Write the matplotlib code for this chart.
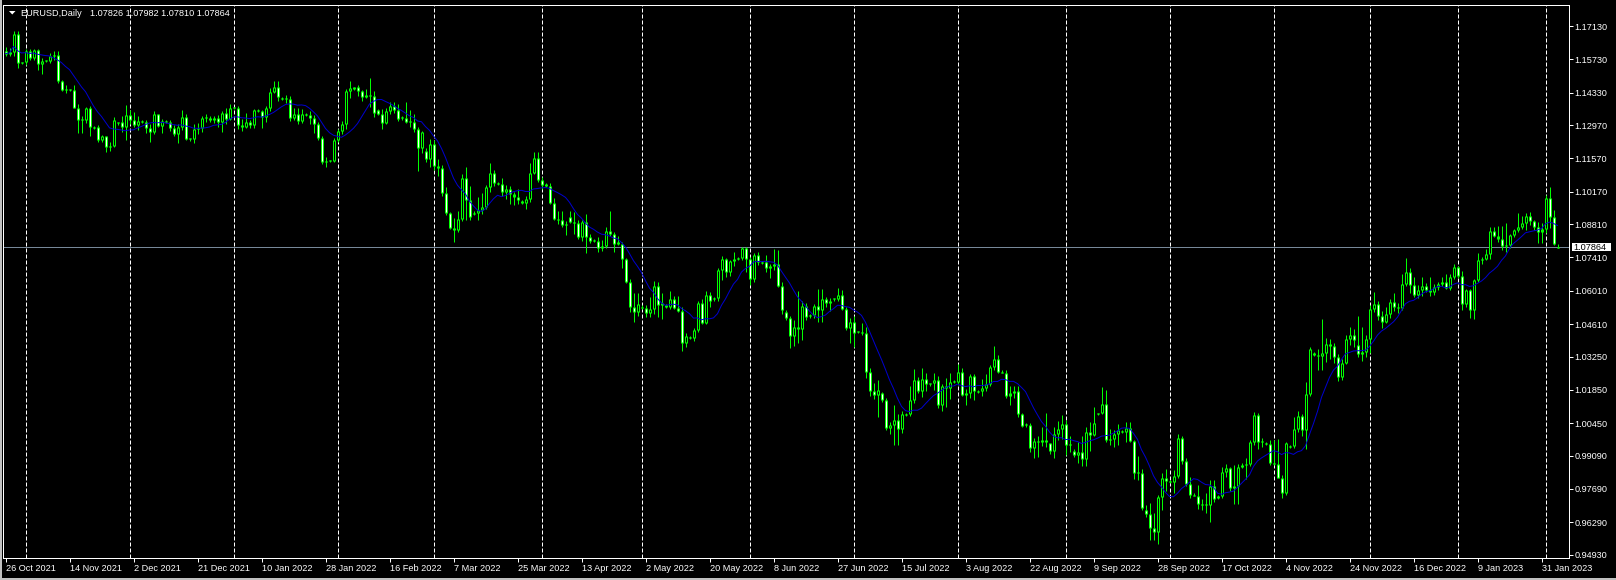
import numpy as np
import pandas as pd
import matplotlib
matplotlib.use("Agg")
import matplotlib.pyplot as plt
from matplotlib.patches import Polygon, Rectangle

"""
EURUSD daily candles, MetaTrader style (green on black).
"""

# trading calendar of the chart: weekdays, plus the broker's sunday bars until mid Nov 2022
first_day = "2021-10-26"
last_day = "2023-02-06"
last_sunday_bar = "2022-11-13"
skipped_days = ["2021-12-26"]

symbol_title = "EURUSD,Daily"

opens = [
    1.1609, 1.1597, 1.1603, 1.1681, 1.1557, 1.1560, 1.1607, 1.1579, 1.1611, 1.1555,
    1.1565, 1.1567, 1.1587, 1.1593, 1.1481, 1.1446, 1.1444, 1.1446, 1.1368, 1.1320,
    1.1318, 1.1370, 1.1285, 1.1290, 1.1235, 1.1250, 1.1205, 1.1209, 1.1305, 1.1308,
    1.1290, 1.1338, 1.1320, 1.1298, 1.1310, 1.1312, 1.1286, 1.1270, 1.1342, 1.1292,
    1.1310, 1.1312, 1.1285, 1.1258, 1.1289, 1.1330, 1.1238, 1.1240, 1.1280, 1.1285,
    1.1327, 1.1325, 1.1318, 1.1328, 1.1310, 1.1349, 1.1323, 1.1368, 1.1370, 1.1298,
    1.1287, 1.1311, 1.1296, 1.1358, 1.1356, 1.1333, 1.1369, 1.1437, 1.1455, 1.1410,
    1.1408, 1.1406, 1.1326, 1.1344, 1.1313, 1.1342, 1.1341, 1.1325, 1.1302, 1.1243,
    1.1144, 1.1146, 1.1148, 1.1235, 1.1272, 1.1302, 1.1440, 1.1450, 1.1455, 1.1440,
    1.1416, 1.1422, 1.1420, 1.1360, 1.1345, 1.1306, 1.1357, 1.1375, 1.1362, 1.1330,
    1.1325, 1.1310, 1.1310, 1.1280, 1.1199, 1.1190, 1.1155, 1.1218, 1.1125, 1.1115,
    1.1010, 1.0926, 1.0865, 1.0855, 1.0902, 1.1076, 1.0981, 1.0925, 1.0929, 1.0942,
    1.0954, 1.1035, 1.1094, 1.1050, 1.1049, 1.1016, 1.1030, 1.1006, 1.0996, 1.0980,
    1.0970, 1.0985, 1.1095, 1.1158, 1.1067, 1.1048, 1.1042, 1.0970, 1.0902, 1.0900,
    1.0877, 1.0910, 1.0890, 1.0885, 1.0829, 1.0890, 1.0826, 1.0812, 1.0810, 1.0780,
    1.0790, 1.0852, 1.0838, 1.0808, 1.0799, 1.0733, 1.0639, 1.0534, 1.0510, 1.0535,
    1.0530, 1.0509, 1.0525, 1.0620, 1.0540, 1.0540, 1.0535, 1.0565, 1.0530, 1.0515,
    1.0380, 1.0405, 1.0402, 1.0435, 1.0550, 1.0465, 1.0585, 1.0565, 1.0570, 1.0690,
    1.0735, 1.0680, 1.0725, 1.0735, 1.0740, 1.0780, 1.0735, 1.0650, 1.0750, 1.0718,
    1.0720, 1.0695, 1.0705, 1.0715, 1.0620, 1.0513, 1.0485, 1.0410, 1.0447, 1.0440,
    1.0537, 1.0495, 1.0498, 1.0537, 1.0520, 1.0565, 1.0550, 1.0567, 1.0565, 1.0583,
    1.0525, 1.0443, 1.0471, 1.0428, 1.0430, 1.0425, 1.0261, 1.0182, 1.0163, 1.0170,
    1.0142, 1.0023, 1.0037, 1.0060, 1.0019, 1.0080, 1.0082, 1.0142, 1.0225, 1.0180,
    1.0230, 1.0208, 1.0212, 1.0225, 1.0120, 1.0200, 1.0195, 1.0218, 1.0220, 1.0260,
    1.0165, 1.0172, 1.0245, 1.0178, 1.0180, 1.0195, 1.0210, 1.0280, 1.0315, 1.0262,
    1.0258, 1.0160, 1.0170, 1.0180, 1.0085, 1.0038, 1.0036, 0.9942, 0.9970, 0.9965,
    0.9975, 0.9960, 0.9930, 1.0000, 1.0020, 1.0040, 0.9955, 0.9930, 0.9912, 0.9925,
    0.9895, 1.0010, 0.9995, 1.0085, 1.0088, 1.0125, 0.9975, 0.9980, 1.0000, 1.0012,
    1.0010, 1.0025, 0.9970, 0.9835, 0.9837, 0.9680, 0.9665, 0.9605, 0.9590, 0.9737,
    0.9815, 0.9800, 0.9797, 0.9825, 0.9985, 0.9885, 0.9790, 0.9745, 0.9740, 0.9705,
    0.9700, 0.9703, 0.9780, 0.9730, 0.9738, 0.9840, 0.9855, 0.9775, 0.9780, 0.9860,
    0.9870, 0.9875, 0.9965, 1.0080, 0.9965, 0.9960, 0.9958, 0.9880, 0.9875, 0.9817,
    0.9750, 0.9945, 0.9948, 1.0020, 1.0075, 1.0016, 1.0166, 1.0340, 1.0333, 1.0326,
    1.0341, 1.0378, 1.0368, 1.0325, 1.0240, 1.0300, 1.0397, 1.0415, 1.0375, 1.0335,
    1.0345, 1.0400, 1.0525, 1.0545, 1.0495, 1.0470, 1.0505, 1.0555, 1.0535, 1.0530,
    1.0630, 1.0680, 1.0625, 1.0585, 1.0605, 1.0622, 1.0605, 1.0595, 1.0615, 1.0630,
    1.0640, 1.0612, 1.0660, 1.0700, 1.0665, 1.0545, 1.0605, 1.0522, 1.0645, 1.0732,
    1.0735, 1.0755, 1.0853, 1.0830, 1.0820, 1.0790, 1.0795, 1.0835, 1.0855, 1.0870,
    1.0885, 1.0915, 1.0893, 1.0870, 1.0850, 1.0860, 1.0989, 1.0910, 1.07826,
]

highs = [
    1.1625, 1.1620, 1.1692, 1.1692, 1.1563, 1.1616, 1.1617, 1.1616, 1.1617, 1.1580,
    1.1570, 1.1600, 1.1607, 1.1609, 1.1487, 1.1464, 1.1448, 1.1464, 1.1385, 1.1337,
    1.1374, 1.1375, 1.1292, 1.1297, 1.1254, 1.1253, 1.1224, 1.1330, 1.1312, 1.1335,
    1.1383, 1.1360, 1.1353, 1.1334, 1.1318, 1.1320, 1.1300, 1.1355, 1.1345, 1.1322,
    1.1318, 1.1320, 1.1297, 1.1300, 1.1360, 1.1342, 1.1244, 1.1300, 1.1306, 1.1335,
    1.1345, 1.1335, 1.1335, 1.1340, 1.1357, 1.1368, 1.1386, 1.1374, 1.1376, 1.1322,
    1.1347, 1.1320, 1.1365, 1.1364, 1.1362, 1.1375, 1.1454, 1.1482, 1.1482, 1.1416,
    1.1424, 1.1419, 1.1369, 1.1369, 1.1364, 1.1348, 1.1355, 1.1338, 1.1310, 1.1250,
    1.1162, 1.1152, 1.1242, 1.1281, 1.1313, 1.1450, 1.1483, 1.1457, 1.1465, 1.1446,
    1.1448, 1.1495, 1.1440, 1.1366, 1.1366, 1.1368, 1.1395, 1.1393, 1.1385, 1.1336,
    1.1395, 1.1360, 1.1343, 1.1290, 1.1274, 1.1200, 1.1240, 1.1235, 1.1155, 1.1130,
    1.1035, 1.0932, 1.0905, 1.0935, 1.1093, 1.1121, 1.1040, 1.0935, 1.0996, 1.1010,
    1.1045, 1.1137, 1.1110, 1.1056, 1.1075, 1.1045, 1.1040, 1.1015, 1.1030, 1.0984,
    1.1000, 1.1137, 1.1185, 1.1183, 1.1078, 1.1054, 1.1053, 1.0990, 1.0935, 1.0936,
    1.0893, 1.0935, 1.0930, 1.0900, 1.0900, 1.0924, 1.0840, 1.0818, 1.0825, 1.0815,
    1.0870, 1.0937, 1.0848, 1.0830, 1.0805, 1.0738, 1.0652, 1.0593, 1.0593, 1.0540,
    1.0543, 1.0575, 1.0641, 1.0640, 1.0590, 1.0546, 1.0600, 1.0580, 1.0580, 1.0535,
    1.0425, 1.0410, 1.0445, 1.0560, 1.0565, 1.0600, 1.0595, 1.0577, 1.0698, 1.0749,
    1.0737, 1.0730, 1.0765, 1.0745, 1.0787, 1.0785, 1.0745, 1.0760, 1.0765, 1.0725,
    1.0750, 1.0715, 1.0775, 1.0774, 1.0640, 1.0520, 1.0495, 1.0480, 1.0600, 1.0560,
    1.0550, 1.0502, 1.0545, 1.0607, 1.0607, 1.0575, 1.0570, 1.0572, 1.0614, 1.0605,
    1.0535, 1.0487, 1.0495, 1.0434, 1.0465, 1.0450, 1.0275, 1.0215, 1.0225, 1.0175,
    1.0150, 1.0052, 1.0122, 1.0085, 1.0096, 1.0088, 1.0201, 1.0272, 1.0240, 1.0278,
    1.0255, 1.0215, 1.0255, 1.0245, 1.0210, 1.0235, 1.0254, 1.0225, 1.0293, 1.0275,
    1.0190, 1.0253, 1.0250, 1.0184, 1.0230, 1.0250, 1.0290, 1.0368, 1.0330, 1.0268,
    1.0270, 1.0200, 1.0200, 1.0200, 1.0090, 1.0044, 1.0045, 0.9985, 0.9990, 1.0030,
    1.0090, 0.9964, 1.0028, 1.0055, 1.0080, 1.0060, 0.9990, 0.9935, 0.9965, 0.9990,
    1.0030, 1.0050, 1.0115, 1.0090, 1.0198, 1.0185, 1.0020, 1.0017, 1.0040, 1.0018,
    1.0050, 1.0050, 0.9976, 0.9906, 0.9852, 0.9700, 0.9710, 0.9670, 0.9745, 0.9837,
    0.9853, 0.9806, 0.9850, 0.9999, 0.9990, 0.9900, 0.9820, 0.9750, 0.9785, 0.9725,
    0.9750, 0.9808, 0.9808, 0.9743, 0.9860, 0.9875, 0.9860, 0.9870, 0.9875, 0.9880,
    0.9900, 0.9975, 1.0093, 1.0090, 0.9985, 0.9965, 0.9975, 0.9976, 0.9977, 0.9826,
    0.9965, 0.9955, 1.0070, 1.0095, 1.0085, 1.0220, 1.0366, 1.0345, 1.0355, 1.0481,
    1.0405, 1.0400, 1.0384, 1.0335, 1.0315, 1.0415, 1.0450, 1.0440, 1.0497, 1.0450,
    1.0415, 1.0540, 1.0594, 1.0560, 1.0515, 1.0535, 1.0568, 1.0590, 1.0550, 1.0673,
    1.0737, 1.0695, 1.0660, 1.0625, 1.0660, 1.0635, 1.0660, 1.0630, 1.0640, 1.0660,
    1.0670, 1.0672, 1.0715, 1.0705, 1.0685, 1.0610, 1.0610, 1.0650, 1.0760, 1.0745,
    1.0775, 1.0870, 1.0870, 1.0873, 1.0875, 1.0887, 1.0840, 1.0862, 1.0927, 1.0915,
    1.0929, 1.0930, 1.0900, 1.0892, 1.0884, 1.1003, 1.1038, 1.0940, 1.07982,
]

lows = [
    1.1588, 1.1585, 1.1586, 1.1535, 1.1553, 1.1550, 1.1570, 1.1571, 1.1529, 1.1513,
    1.1560, 1.1557, 1.1570, 1.1472, 1.1442, 1.1433, 1.1440, 1.1367, 1.1264, 1.1263,
    1.1305, 1.1250, 1.1280, 1.1226, 1.1226, 1.1186, 1.1190, 1.1204, 1.1298, 1.1270,
    1.1235, 1.1300, 1.1290, 1.1275, 1.1305, 1.1264, 1.1227, 1.1260, 1.1287, 1.1262,
    1.1305, 1.1272, 1.1250, 1.1222, 1.1276, 1.1235, 1.1232, 1.1222, 1.1260, 1.1270,
    1.1310, 1.1310, 1.1305, 1.1290, 1.1268, 1.1300, 1.1320, 1.1363, 1.1282, 1.1272,
    1.1285, 1.1285, 1.1286, 1.1352, 1.1285, 1.1312, 1.1358, 1.1432, 1.1400, 1.1404,
    1.1388, 1.1314, 1.1318, 1.1300, 1.1306, 1.1336, 1.1300, 1.1264, 1.1235, 1.1135,
    1.1121, 1.1140, 1.1140, 1.1224, 1.1260, 1.1280, 1.1412, 1.1444, 1.1420, 1.1399,
    1.1410, 1.1374, 1.1330, 1.1340, 1.1280, 1.1300, 1.1345, 1.1346, 1.1316, 1.1318,
    1.1305, 1.1290, 1.1270, 1.1106, 1.1180, 1.1140, 1.1120, 1.1110, 1.1085, 1.1000,
    1.0918, 1.0860, 1.0806, 1.0850, 1.0895, 1.0900, 1.0900, 1.0918, 1.0900, 1.0925,
    1.0945, 1.1015, 1.1040, 1.1044, 1.1000, 1.0985, 1.0965, 1.0960, 1.0965, 1.0965,
    1.0945, 1.0975, 1.1090, 1.1060, 1.1030, 1.1036, 1.0965, 1.0898, 1.0880, 1.0870,
    1.0836, 1.0885, 1.0838, 1.0820, 1.0810, 1.0758, 1.0802, 1.0805, 1.0765, 1.0770,
    1.0780, 1.0830, 1.0766, 1.0795, 1.0697, 1.0633, 1.0513, 1.0471, 1.0495, 1.0525,
    1.0492, 1.0492, 1.0505, 1.0490, 1.0484, 1.0530, 1.0525, 1.0525, 1.0510, 1.0350,
    1.0365, 1.0397, 1.0389, 1.0430, 1.0460, 1.0462, 1.0532, 1.0560, 1.0560, 1.0645,
    1.0660, 1.0665, 1.0705, 1.0730, 1.0730, 1.0680, 1.0627, 1.0640, 1.0710, 1.0713,
    1.0680, 1.0655, 1.0690, 1.0615, 1.0505, 1.0480, 1.0359, 1.0368, 1.0380, 1.0395,
    1.0480, 1.0488, 1.0485, 1.0470, 1.0470, 1.0535, 1.0515, 1.0560, 1.0557, 1.0520,
    1.0435, 1.0382, 1.0365, 1.0422, 1.0415, 1.0235, 1.0160, 1.0145, 1.0072, 1.0135,
    1.0015, 0.9998, 0.9953, 0.9952, 1.0005, 1.0074, 1.0075, 1.0130, 1.0170, 1.0155,
    1.0180, 1.0200, 1.0185, 1.0110, 1.0095, 1.0115, 1.0145, 1.0212, 1.0205, 1.0160,
    1.0123, 1.0150, 1.0141, 1.0172, 1.0160, 1.0180, 1.0200, 1.0270, 1.0255, 1.0255,
    1.0150, 1.0120, 1.0150, 1.0073, 1.0030, 1.0030, 0.9926, 0.9900, 0.9903, 0.9950,
    0.9947, 0.9915, 0.9900, 0.9975, 0.9980, 0.9910, 0.9925, 0.9905, 0.9876, 0.9865,
    0.9864, 0.9930, 0.9990, 1.0080, 1.0085, 0.9966, 0.9955, 0.9945, 0.9955, 1.0006,
    0.9965, 0.9965, 0.9810, 0.9805, 0.9680, 0.9650, 0.9553, 0.9553, 0.9536, 0.9680,
    0.9760, 0.9792, 0.9750, 0.9815, 0.9875, 0.9780, 0.9730, 0.9738, 0.9686, 0.9680,
    0.9670, 0.9632, 0.9715, 0.9725, 0.9730, 0.9820, 0.9760, 0.9704, 0.9705, 0.9855,
    0.9810, 0.9865, 0.9955, 0.9935, 0.9945, 0.9955, 0.9870, 0.9870, 0.9815, 0.9730,
    0.9745, 0.9940, 0.9940, 1.0010, 0.9990, 0.9935, 1.0160, 1.0328, 1.0270, 1.0270,
    1.0303, 1.0315, 1.0300, 1.0222, 1.0225, 1.0295, 1.0375, 1.0365, 1.0325, 1.0305,
    1.0325, 1.0340, 1.0513, 1.0480, 1.0443, 1.0465, 1.0485, 1.0515, 1.0506, 1.0520,
    1.0620, 1.0590, 1.0575, 1.0570, 1.0580, 1.0595, 1.0580, 1.0585, 1.0605, 1.0620,
    1.0610, 1.0605, 1.0650, 1.0655, 1.0520, 1.0535, 1.0485, 1.0483, 1.0640, 1.0715,
    1.0730, 1.0735, 1.0825, 1.0808, 1.0773, 1.0765, 1.0782, 1.0828, 1.0850, 1.0860,
    1.0856, 1.0877, 1.0857, 1.0803, 1.0803, 1.0845, 1.0863, 1.0793, 1.07810,
]

closes = [
    1.1597, 1.1603, 1.1681, 1.1558, 1.1560, 1.1607, 1.1579, 1.1611, 1.1555, 1.1567,
    1.1567, 1.1587, 1.1593, 1.1481, 1.1446, 1.1445, 1.1446, 1.1368, 1.1320, 1.1318,
    1.1370, 1.1288, 1.1290, 1.1235, 1.1250, 1.1205, 1.1209, 1.1318, 1.1308, 1.1290,
    1.1338, 1.1320, 1.1298, 1.1315, 1.1312, 1.1286, 1.1270, 1.1342, 1.1292, 1.1315,
    1.1312, 1.1285, 1.1258, 1.1289, 1.1330, 1.1238, 1.1240, 1.1280, 1.1285, 1.1327,
    1.1325, 1.1318, 1.1328, 1.1310, 1.1349, 1.1323, 1.1370, 1.1370, 1.1298, 1.1287,
    1.1311, 1.1296, 1.1360, 1.1356, 1.1333, 1.1369, 1.1437, 1.1455, 1.1413, 1.1408,
    1.1406, 1.1326, 1.1344, 1.1313, 1.1345, 1.1341, 1.1325, 1.1302, 1.1243, 1.1144,
    1.1145, 1.1148, 1.1235, 1.1272, 1.1302, 1.1440, 1.1452, 1.1455, 1.1440, 1.1416,
    1.1422, 1.1420, 1.1348, 1.1345, 1.1306, 1.1357, 1.1375, 1.1362, 1.1322, 1.1325,
    1.1310, 1.1308, 1.1280, 1.1199, 1.1270, 1.1155, 1.1218, 1.1125, 1.1115, 1.1010,
    1.0929, 1.0865, 1.0855, 1.0902, 1.1076, 1.0981, 1.0911, 1.0929, 1.0942, 1.0954,
    1.1035, 1.1094, 1.1052, 1.1049, 1.1016, 1.1030, 1.1006, 1.0996, 1.0983, 1.0970,
    1.0985, 1.1095, 1.1158, 1.1067, 1.1046, 1.1042, 1.0970, 1.0902, 1.0900, 1.0877,
    1.0876, 1.0890, 1.0885, 1.0829, 1.0890, 1.0826, 1.0812, 1.0810, 1.0780, 1.0790,
    1.0852, 1.0838, 1.0798, 1.0799, 1.0733, 1.0639, 1.0534, 1.0510, 1.0545, 1.0530,
    1.0509, 1.0525, 1.0620, 1.0540, 1.0550, 1.0535, 1.0565, 1.0530, 1.0515, 1.0380,
    1.0412, 1.0402, 1.0435, 1.0550, 1.0465, 1.0585, 1.0560, 1.0570, 1.0690, 1.0735,
    1.0680, 1.0725, 1.0735, 1.0740, 1.0780, 1.0735, 1.0650, 1.0750, 1.0720, 1.0720,
    1.0695, 1.0705, 1.0715, 1.0620, 1.0520, 1.0485, 1.0410, 1.0447, 1.0440, 1.0537,
    1.0490, 1.0498, 1.0537, 1.0520, 1.0565, 1.0550, 1.0560, 1.0565, 1.0583, 1.0525,
    1.0443, 1.0471, 1.0425, 1.0430, 1.0425, 1.0261, 1.0182, 1.0163, 1.0185, 1.0142,
    1.0023, 1.0037, 1.0060, 1.0019, 1.0085, 1.0082, 1.0142, 1.0225, 1.0180, 1.0230,
    1.0210, 1.0212, 1.0225, 1.0120, 1.0200, 1.0195, 1.0220, 1.0220, 1.0260, 1.0165,
    1.0172, 1.0245, 1.0180, 1.0180, 1.0195, 1.0210, 1.0280, 1.0315, 1.0260, 1.0258,
    1.0160, 1.0170, 1.0180, 1.0085, 1.0035, 1.0036, 0.9942, 0.9970, 0.9965, 0.9975,
    0.9965, 0.9930, 1.0000, 1.0020, 1.0040, 0.9955, 0.9958, 0.9912, 0.9925, 0.9895,
    1.0010, 0.9995, 1.0045, 1.0088, 1.0125, 0.9975, 0.9980, 1.0000, 1.0015, 1.0010,
    1.0025, 0.9970, 0.9835, 0.9837, 0.9690, 0.9665, 0.9605, 0.9590, 0.9737, 0.9815,
    0.9802, 0.9797, 0.9825, 0.9985, 0.9885, 0.9790, 0.9745, 0.9740, 0.9705, 0.9700,
    0.9703, 0.9780, 0.9725, 0.9738, 0.9840, 0.9855, 0.9775, 0.9780, 0.9860, 0.9870,
    0.9875, 0.9965, 1.0080, 0.9965, 0.9968, 0.9958, 0.9880, 0.9875, 0.9817, 0.9750,
    0.9960, 0.9948, 1.0020, 1.0075, 1.0016, 1.0166, 1.0355, 1.0333, 1.0326, 1.0341,
    1.0378, 1.0368, 1.0325, 1.0240, 1.0300, 1.0397, 1.0415, 1.0395, 1.0335, 1.0345,
    1.0400, 1.0525, 1.0545, 1.0495, 1.0470, 1.0505, 1.0555, 1.0535, 1.0530, 1.0630,
    1.0680, 1.0625, 1.0585, 1.0605, 1.0622, 1.0605, 1.0595, 1.0615, 1.0630, 1.0640,
    1.0612, 1.0660, 1.0700, 1.0665, 1.0545, 1.0605, 1.0522, 1.0645, 1.0732, 1.0735,
    1.0755, 1.0853, 1.0830, 1.0820, 1.0790, 1.0795, 1.0835, 1.0855, 1.0870, 1.0885,
    1.0915, 1.0893, 1.0870, 1.0850, 1.0860, 1.0989, 1.0910, 1.0797, 1.07864,
]

price_ticks = [
    1.17130, 1.15730, 1.14330, 1.12970, 1.11570, 1.10170, 1.08810, 1.07410, 1.06010,
    1.04610, 1.03250, 1.01850, 1.00450, 0.99090, 0.97690, 0.96290, 0.94930,
]

ma_period = 10
label_every = 16

# ---- calendar ----
days = pd.date_range(first_day, last_day, freq="D")
keep = (days.dayofweek < 5) | ((days.dayofweek == 6) & (days <= pd.Timestamp(last_sunday_bar)))
days = days[keep & ~days.isin(pd.to_datetime(skipped_days))]
assert len(days) == len(opens) == len(highs) == len(lows) == len(closes)

o = np.array(opens)
h = np.array(highs)
l = np.array(lows)
c = np.array(closes)
x = np.arange(len(c))

# ---- figure geometry (pixels) ----
W, H = 1616, 580
left_px, right_px, top_px, bottom_px = 2.5, 1568.5, 4.5, 557.5
ylim = (0.94812, 1.18033)

BG = "black"
FG = "white"
LIME = "#00FF00"
LW1 = 0.72  # 1 pixel at 100 dpi

plt.rcParams["font.family"] = ["Liberation Sans", "DejaVu Sans"]

fig = plt.figure(figsize=(W / 100, H / 100), dpi=100, facecolor=BG)
ax = fig.add_axes([
    left_px / W,
    1 - bottom_px / H,
    (right_px - left_px) / W,
    (bottom_px - top_px) / H,
])
ax.set_facecolor(BG)
ax.set_xlim((left_px - 5.5) / 4, (right_px - 5.5) / 4)
ax.set_ylim(*ylim)

one_px = (ylim[1] - ylim[0]) / (bottom_px - top_px)

# month separators
month_starts = [i for i in range(1, len(days)) if days[i].month != days[i - 1].month]
for i in month_starts:
    ax.axvline(i, color=FG, lw=LW1, ls=(0, (4, 2)), zorder=1)

# bid line
ax.axhline(c[-1], color="#778899", lw=LW1, zorder=2)

# candles
ax.vlines(x, l, h, color=LIME, lw=LW1, capstyle="butt", zorder=3)
body_lo = np.minimum(o, c)
body_hi = np.maximum(np.maximum(o, c), body_lo + one_px)
ax.vlines(x, body_lo, body_hi, color=LIME, lw=3 * LW1, capstyle="butt", zorder=4)
hollow = (body_hi - body_lo) > 2.5 * one_px
bull = c >= o
ax.vlines(x[hollow & bull], body_lo[hollow & bull] + one_px, body_hi[hollow & bull] - one_px,
          color="black", lw=LW1, capstyle="butt", zorder=5)
ax.vlines(x[hollow & ~bull], body_lo[hollow & ~bull] + one_px, body_hi[hollow & ~bull] - one_px,
          color="white", lw=LW1, capstyle="butt", zorder=5)

# moving average
ma = pd.Series(c).rolling(ma_period, min_periods=1).mean()
ax.plot(x, ma, color="#0000CD", lw=LW1, zorder=6)

# axes look
for side in ax.spines.values():
    side.set_color(FG)
    side.set_linewidth(LW1)

label_idx = list(range(0, len(days), label_every))
ax.set_xticks(label_idx, labels=[f"{days[i].day} {days[i]:%b %Y}" for i in label_idx])
for t in ax.get_xticklabels():
    t.set_horizontalalignment("left")

ax.yaxis.tick_right()
ax.set_yticks(price_ticks, labels=[f"{v:.5f}" for v in price_ticks])
ax.tick_params(axis="both", colors=FG, labelcolor=FG, labelsize=6.6,
               length=2.9, width=LW1, pad=1.5)


def fx(px):
    return px / W


def fy(px_from_top):
    return 1 - px_from_top / H


# current price box
price_box = Rectangle((fx(1571.5), fy(251)), fx(39.5), 8.5 / H, transform=fig.transFigure,
                      facecolor="white", edgecolor="none", zorder=10)
fig.patches.append(price_box)
fig.text(fx(1573.5), fy(246.7), f"{c[-1]:.5f}", color="black", fontsize=6.6,
         va="center_baseline", ha="left", zorder=11)

# title
tri = Polygon([(fx(9), fy(11)), (fx(15.5), fy(11)), (fx(12.25), fy(14.5))],
              closed=True, transform=fig.transFigure, facecolor=FG, edgecolor="none")
fig.patches.append(tri)
fig.text(fx(20.5), fy(16.3), symbol_title, color=FG, fontsize=6.6, va="baseline")
fig.text(fx(90.5), fy(16.3), f"{o[-1]:.5f} {h[-1]:.5f} {l[-1]:.5f} {c[-1]:.5f}",
         color=FG, fontsize=6.6, va="baseline")

# window frame
fig.patches.append(Rectangle((0, 0), fx(2), 1, transform=fig.transFigure,
                             facecolor="#C0C0C0", edgecolor="none"))
fig.patches.append(Rectangle((0, 0), 1, 2 / H, transform=fig.transFigure,
                             facecolor="#C0C0C0", edgecolor="none"))

fig.savefig("out.png", dpi=100, facecolor=BG)
